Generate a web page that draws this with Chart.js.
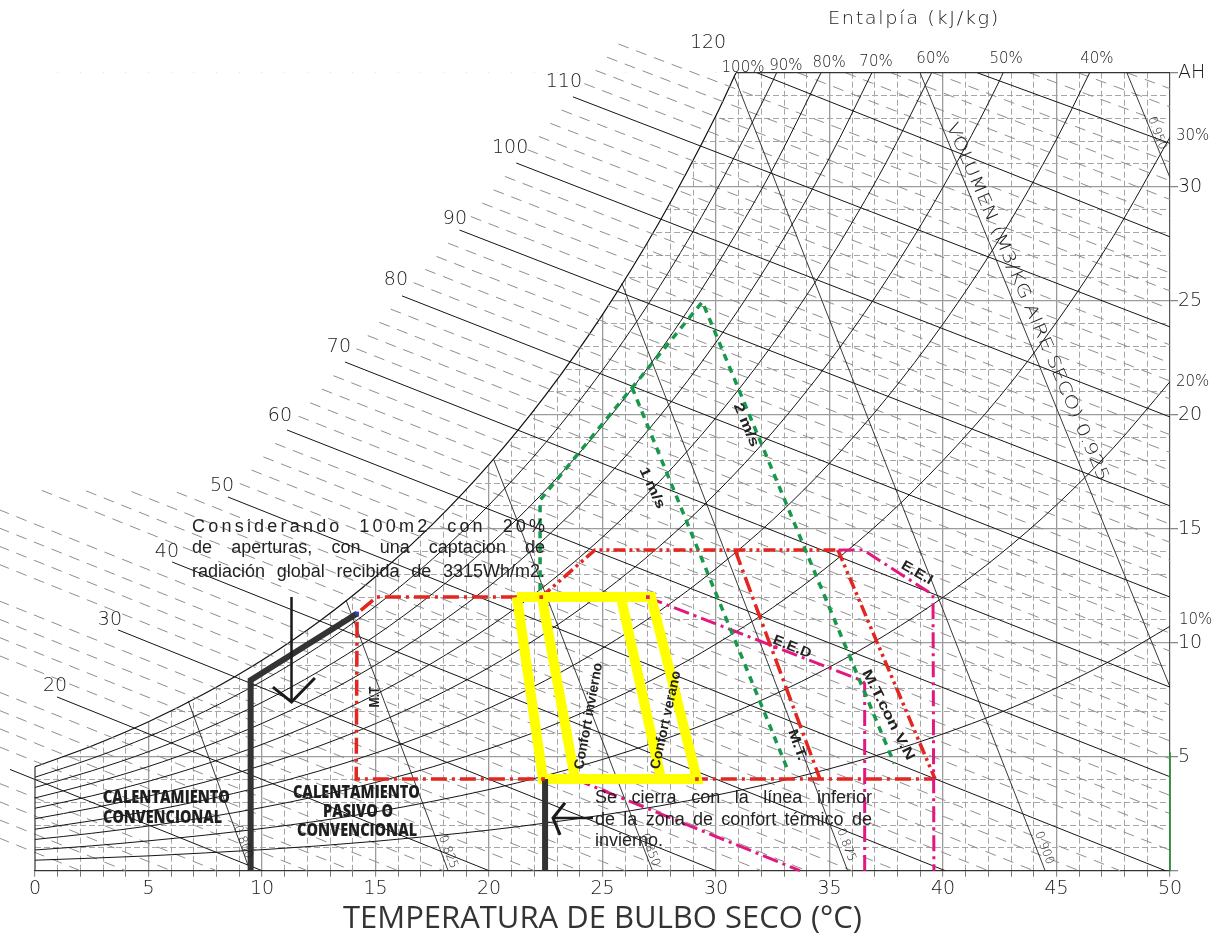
<!DOCTYPE html>
<html lang="es">
<head>
<meta charset="utf-8">
<title>Diagrama psicrométrico</title>
<script src="https://cdn.jsdelivr.net/npm/chart.js@4.4.1/dist/chart.umd.min.js"></script>
<style>
html,body{margin:0;padding:0;background:#fff;}
canvas{display:block;}
</style>
</head>
<body>
<canvas id="psy" width="1219" height="939"></canvas>
<script>
// ---- Dry-bulb temperature sample points (°C) used by the humidity curves ----
const tempSteps = [0,2.5,5,7.5,10,12.5,15,17.5,20,22.5,25,27.5,30,32.5,35,37.5,40,42.5,45,47.5,50];

// ---- Absolute humidity (g/kg) along each relative-humidity curve ----
const rh100 = [4.56,5.47,6.53,7.78,9.23,10.92,12.89,15.18,17.82,20.87,24.39,28.44,33.12];
const rh90  = [4.10,4.92,5.88,7.00,8.31,9.83,11.60,13.66,16.04,18.78,21.95,25.60,29.81,34.63];
const rh80  = [3.65,4.38,5.22,6.22,7.38,8.74,10.31,12.14,14.26,16.70,19.51,22.75,26.50,30.78];
const rh70  = [3.19,3.83,4.57,5.45,6.46,7.64,9.02,10.63,12.47,14.61,17.07,19.91,23.18,26.94,31.27];
const rh60  = [2.74,3.28,3.92,4.67,5.54,6.55,7.73,9.11,10.69,12.52,14.63,17.06,19.87,23.09,26.80,31.07];
const rh50  = [2.28,2.74,3.27,3.89,4.62,5.46,6.45,7.59,8.91,10.44,12.20,14.22,16.56,19.24,22.34,25.89,29.98,34.67];
const rh40  = [1.82,2.19,2.61,3.11,3.69,4.37,5.16,6.07,7.13,8.35,9.76,11.38,13.25,15.39,17.87,20.71,23.98,27.73,32.08];
const rh30  = [1.37,1.64,1.96,2.33,2.77,3.28,3.87,4.55,5.35,6.26,7.32,8.53,9.94,11.54,13.40,15.53,17.99,20.80,24.06,27.82,32.17];
const rh20  = [0.91,1.09,1.31,1.56,1.85,2.18,2.58,3.04,3.56,4.17,4.88,5.69,6.62,7.70,8.93,10.36,11.99,13.87,16.04,18.54,21.45];
const rh10  = [0.46,0.55,0.65,0.78,0.92,1.09,1.29,1.52,1.78,2.09,2.44,2.84,3.31,3.85,4.47,5.18,6.00,6.93,8.02,9.27,10.72];
const rhCurves = [rh100,rh90,rh80,rh70,rh60,rh50,rh40,rh30,rh20,rh10];
const rhLevels = ['100%','90%','80%','70%','60%','50%','40%','30%','20%','10%'];
// temperature where each curve reaches the 35 g/kg upper edge
const rhTopT = [30.88,32.67,34.63,36.87,39.5,42.65,46.46,null,null,null];

// ---- Enthalpy lines (kJ/kg): start and end of each line as (°C, g/kg) ----
const enthH      = [10,20,30,40,50,60,70,80,90,100,110,120,130];
const enthStartT = [-1.1,0.97,3.66,6.04,8.5,11.1,13.66,16.17,18.7,21.2,23.7,31.8,41.5];
const enthStartW = [4.44,7.62,10.56,13.54,16.39,19.33,22.31,25.21,28.1,31.04,33.94,35,35];
const enthEndT   = [10,20,30,40.1,49.8,50,50,50,50,50,50,50,50];
const enthEndW   = [0,0,0,0,0,4.12,8.05,12.0,16.0,19.9,23.85,27.8,31.9];
const enthLabelT = [null,0.88,3.30,5.81,8.24,10.79,13.39,15.90,18.5,20.93,23.3,29.65,null];
const enthLabelW = [null,8.10,10.99,13.97,16.87,19.94,22.97,25.91,28.59,31.70,34.59,36.3,null];

// ---- Intermediate enthalpy lines every 2 kJ/kg (dashed) ----
const dashH = [2,4,6,8,12,14,16,18,22,24,26,28,32,34,36,38,42,44,46,48,52,54,56,58,62,64,66,68,72,74,76,78,82,84,86,88,92,94,96,98,102,104,106,108,112,114,116,118,122,124,126,128,132,134,136];
const dashStartT = [-1.6,-1.6,-1.6,-1.6,-1.6,-1.6,-1.6,-1.6,-1.6,-1.6,-1.6,-1.6,-1.6,-1.6,-1.6,-1.6,0.3,2.25,4.25,6.25,
  9.02,9.54,10.06,10.58,11.61,12.12,12.64,13.15,14.16,14.66,15.17,15.67,16.68,17.19,17.69,18.2,19.2,19.7,20.2,20.7,
  21.7,22.2,22.7,23.2,24.2,24.7,25.2,25.7,33.6,35.7,37.7,39.55,43.8,45.95,48.1];
const dashStartW = [1.44,2.24,3.04,3.84,5.44,6.24,7.04,7.84,9.44,10.24,11.04,11.84,13.44,14.24,15.04,15.84,16.68,16.66,16.63,16.6,
  16.98,17.57,18.15,18.74,19.93,20.52,21.12,21.71,22.89,23.47,24.05,24.63,25.79,26.37,26.94,27.52,28.69,29.28,29.86,30.45,
  31.62,32.2,32.78,33.36,34.52,35.1,35.68,36.26,35,35,35,35,35,35,35];
const dashEndT = [2,4,6,8,12,14,16,18,22,24,26,28,32,34,36,38,42,44,46,47.8,
  50,50,50,50,50,50,50,50,50,50,50,50,50,50,50,50,50,50,50,50,50,50,50,50,50,50,50,50,50,50,50,50,50,50,50];
const dashEndW = [0,0,0,0,0,0,0,0,0,0,0,0,0,0,0,0,0,0,0,0,
  0.9,1.7,2.5,3.3,4.91,5.69,6.48,7.26,8.84,9.63,10.42,11.21,12.8,13.6,14.4,15.2,16.78,17.56,18.34,19.12,
  20.69,21.48,22.27,23.06,24.64,25.43,26.22,27.01,28.62,29.44,30.26,31.08,32.7,33.5,34.3];

// ---- Specific volume lines (m3/kg dry air) ----
const volLabels = ['0.800','0.825','0.850','0.875','0.900','0.925','0.950'];
const volStartT = [6.75,13.7,20.2,25.85,30.8,38.99,48.1];
const volStartW = [7.45,11.87,18.05,25.77,34.84,35,35];
const volEndT   = [9.47,18.2,27.2,35.8,44.5,50,50];
const volEndW   = [0,0,0,0,0,8.06,30.4];

// ---- Axis ticks ----
const xTickLabels = [0,5,10,15,20,25,30,35,40,45,50];
const yTickLabels = [5,10,15,20,25,30];
const xGrid = Array.from({length: 51}, (_, i) => i);
const yGrid = Array.from({length: 36}, (_, i) => i);

// ---- Bioclimatic strategy zones (°C, g/kg) ----
const redBaseT   = [21.23,15.05,14.19,14.15,39.65];
const redBaseW   = [12.0,12.0,11.28,4.02,4.02];
const redTopT    = [22.3,24.67,35.4];
const redTopW    = [12.0,14.07,14.07];
const redMtT     = [30.84,34.58];
const redMtW     = [14.07,4.02];
const redMtvnT   = [35.37,39.65];
const redMtvnW   = [14.07,4.02];
const eeiT = [35.4,36.48,39.56,39.6];
const eeiW = [14.07,14.07,12.1,0];
const eedT = [26.96,36.45,36.55,36.55];
const eedW = [12.0,8.33,8.2,0];
const lowMagT = [23.79,33.7];
const lowMagW = [4.02,0];
const wind2T = [22.25,22.25,29.4,37.85];
const wind2W = [12.3,16.25,24.95,4.7];
const wind1T = [26.3,33.17];
const wind1W = [21.2,4.4];
const comfortOuterT = [21.23,27.14,29.16,22.38,21.23];
const comfortOuterW = [12.0,12.0,4.02,4.02,12.0];
const winterInnerT = [22.33,23.79];
const winterInnerW = [12.0,4.02];
const summerInnerT = [25.81,27.58];
const summerInnerW = [12.0,4.02];
const heatingT = [9.5,9.5,14.19];
const heatingW = [0,8.36,11.28];
const closeT = [22.47,22.47];
const closeW = [4.02,0];
const arrowDownT = [11.3,11.3];
const arrowDownW = [12.0,7.4];
const arrowDownHeadT = [10.48,11.3,12.33];
const arrowDownHeadW = [8.05,7.4,8.45];
const arrowLeftT = [24.58,22.82];
const arrowLeftW = [2.31,2.31];
const arrowLeftHeadT = [23.35,22.82,23.13];
const arrowLeftHeadW = [2.98,2.31,1.57];
const redDotT = [22.38,29.16,22.3];
const redDotW = [4.02,4.02,12.0];
const magDotT = [27.0,32.6];
const magDotW = [12.0,9.8];
const blueDotT = [14.19];
const blueDotW = [11.28];

// ---------------------------------------------------------------------------
const CAD = '"DejaVu Sans", sans-serif';
const SANS = '"Liberation Sans", Arial, sans-serif';
const pts = (ts, ws) => ts.map((t, i) => ({x: t, y: ws[i]}));
function segments(t0, w0, t1, w1) {
  const out = [];
  t0.forEach((t, i) => {
    out.push({x: t, y: w0[i]}, {x: t1[i], y: w1[i]}, {x: t1[i], y: null});
  });
  return out;
}
function curve(ws, topT) {
  const p = ws.map((w, i) => ({x: tempSteps[i], y: w}));
  if (topT != null) p.push({x: topT, y: 35});
  return p;
}

const RED = '#e3261f', MAG = '#e2177f', GREEN = '#17984a', YEL = '#ffff00', DARK = '#333333';
const dashDot = [16,5,3,5];
const dashDotDot = [12,4,3,4,3,4];

const datasets = [];
// saturation curve, white above it hides the grid
datasets.push({data: curve(rh100, rhTopT[0]), borderColor: '#111', borderWidth: 1.2, fill: 'end',
  backgroundColor: '#ffffff', cubicInterpolationMode: 'monotone', order: 100});
datasets.push({data: segments(dashStartT, dashStartW, dashEndT, dashEndW), borderColor: '#8e8e8e', borderWidth: 1,
  borderDash: [11,8], clip: false, order: 95});
datasets.push({data: segments(enthStartT, enthStartW, enthEndT, enthEndW), borderColor: '#151515', borderWidth: 1,
  clip: false, order: 90});
for (let i = 1; i < rhCurves.length; i++) {
  datasets.push({data: curve(rhCurves[i], rhTopT[i]), borderColor: '#151515', borderWidth: 1,
    cubicInterpolationMode: 'monotone', order: 85});
}
datasets.push({data: segments(volStartT, volStartW, volEndT, volEndW), borderColor: '#222', borderWidth: 0.9, order: 85});
datasets.push({data: [{x: rhTopT[0], y: 35}, {x: 50, y: 35}], borderColor: '#333', borderWidth: 1.2, clip: false, order: 84});
datasets.push({data: [{x: 0, y: 0}, {x: 0, y: rh100[0]}], borderColor: '#333', borderWidth: 1.2, clip: false, order: 84});
datasets.push({data: [{x: 50, y: 0}, {x: 50, y: 5.2}], borderColor: '#2f8f3f', borderWidth: 1.8, clip: false, order: 84});

// strategy outlines
const line = (ts, ws, color, width, dash, order) => ({data: pts(ts, ws), borderColor: color, borderWidth: width,
  borderDash: dash || [], clip: false, order, borderJoinStyle: 'miter'});
datasets.push(line(redBaseT, redBaseW, RED, 3.5, dashDot, 40));
datasets.push(line(redTopT, redTopW, RED, 3.5, dashDotDot, 40));
datasets.push(line(redMtT, redMtW, RED, 3.5, dashDot, 40));
datasets.push(line(redMtvnT, redMtvnW, RED, 3.5, dashDotDot, 40));
datasets.push(line(eeiT, eeiW, MAG, 3, dashDot, 38));
datasets.push(line(eedT, eedW, MAG, 3, dashDot, 38));
datasets.push(line(lowMagT, lowMagW, MAG, 3, dashDot, 38));
datasets.push(line(wind2T, wind2W, GREEN, 3.5, [7,6], 36));
datasets.push(line(wind1T, wind1W, GREEN, 3.5, [7,6], 36));
datasets.push(line(comfortOuterT, comfortOuterW, YEL, 10, [], 30));
datasets.push(line(winterInnerT, winterInnerW, YEL, 10, [], 30));
datasets.push(line(summerInnerT, summerInnerW, YEL, 10, [], 30));
datasets.push(line(heatingT, heatingW, DARK, 6, [], 20));
datasets.push(line(closeT, closeW, DARK, 6, [], 20));
datasets.push(line(arrowDownT, arrowDownW, '#1a1a1a', 2.5, [], 10));
datasets.push(line(arrowDownHeadT, arrowDownHeadW, '#1a1a1a', 3, [], 10));
datasets.push(line(arrowLeftT, arrowLeftW, '#1a1a1a', 2.5, [], 10));
datasets.push(line(arrowLeftHeadT, arrowLeftHeadW, '#1a1a1a', 3, [], 10));
const dots = (ts, ws, color) => ({data: pts(ts, ws), showLine: false, pointRadius: 2.6, pointStyle: 'rect',
  pointBackgroundColor: color, pointBorderWidth: 0, clip: false, order: 5});
datasets.push(dots(redDotT, redDotW, RED));
datasets.push(dots(magDotT, magDotW, MAG));
datasets.push(dots(blueDotT, blueDotW, '#2a3bd8'));

// ---------------------------------------------------------------------------
function txt(ctx, s, x, y, o) {
  ctx.save();
  ctx.translate(x, y);
  if (o.rot) ctx.rotate(o.rot * Math.PI / 180);
  ctx.font = o.font;
  ctx.fillStyle = o.color || '#222';
  ctx.textAlign = o.align || 'center';
  ctx.textBaseline = 'middle';
  if ('letterSpacing' in ctx) ctx.letterSpacing = (o.ls || 0) + 'px';
  if (o.width) {
    const w = ctx.measureText(s).width;
    ctx.scale(o.width / w, 1);
  }
  ctx.fillText(s, 0, 0);
  ctx.restore();
}
function justify(ctx, s, x0, x1, y, font, ls) {
  ctx.save();
  ctx.font = font;
  ctx.fillStyle = '#222';
  ctx.textAlign = 'left';
  ctx.textBaseline = 'middle';
  if ('letterSpacing' in ctx) ctx.letterSpacing = ls + 'px';
  const words = s.split(' ');
  const widths = words.map(w => ctx.measureText(w).width - ls);
  const total = widths.reduce((a, b) => a + b, 0);
  const gap = words.length > 1 ? (x1 - x0 - total) / (words.length - 1) : 0;
  let x = x0;
  words.forEach((w, i) => { ctx.fillText(w, x, y); x += widths[i] + gap; });
  ctx.restore();
}

// text labels placed in chart units (°C, g/kg)
const rhTopLabelT = [31.19,33.08,34.98,37.05,39.56,42.78,46.78];
const rhTopLabelW = [35.2,35.29,35.42,35.46,35.6,35.6,35.6];
const rhSideLabelW = [32.2,21.45,11.0];
const volLabelT = [9.16,18.19,27.09,35.73,44.45,null,49.43];
const volLabelW = [1.26,0.82,0.91,1.13,1.0,null,32.35];

const textPlugin = {
  id: 'psyText',
  afterDraw(chart) {
    const {ctx, scales: {x, y}} = chart;
    const X = t => x.getPixelForValue(t), Y = w => y.getPixelForValue(w);
    const cad = (s, w) => (w || 200) + ' ' + s + 'px ' + CAD;

    enthH.forEach((h, i) => {
      if (enthLabelT[i] == null) return;
      txt(ctx, String(h), X(enthLabelT[i]), Y(enthLabelW[i]), {font: cad(19), color: '#1a1a1a'});
    });
    rhTopLabelT.forEach((t, i) => txt(ctx, rhLevels[i], X(t), Y(rhTopLabelW[i]), {font: cad(15), color: '#1a1a1a'}));
    rhSideLabelW.forEach((w, i) => txt(ctx, rhLevels[7 + i], 1176 + (i === 2 ? 3 : 0), Y(w), {font: cad(15), align: 'left', color: '#1a1a1a'}));
    txt(ctx, 'Entalpía (kJ/kg)', X(38.72), Y(37.36), {font: cad(18), ls: 1.5, width: 172, color: '#1a1a1a'});

    volLabels.forEach((v, i) => {
      if (volLabelT[i] == null) return;
      txt(ctx, v, X(volLabelT[i]), Y(volLabelW[i]), {font: cad(12), rot: 69, color: '#1a1a1a'});
    });
    txt(ctx, 'VOLUMEN (M3/KG AIRE SECO) 0.925', X(43.7), Y(24.94), {font: cad(17), rot: 66.8, width: 388, color: '#1a1a1a'});

    // notes
    const note = '18px ' + SANS;
    justify(ctx, 'Considerando 100m2 con 20%', X(6.92), X(22.47), Y(15.07), note, 3.2);
    justify(ctx, 'de aperturas, con una captacion de', X(6.92), X(22.47), Y(14.15), note, 0);
    justify(ctx, 'radiación global recibida de 3315Wh/m2.', X(6.92), X(22.47), Y(13.1), note, 0);
    justify(ctx, 'Se cierra con la línea inferior', X(24.67), X(36.87), Y(3.19), note, 0);
    justify(ctx, 'de la zona de confort térmico de', X(24.67), X(36.87), Y(2.22), note, 0);
    txt(ctx, 'invierno.', X(24.67), Y(1.3), {font: note, align: 'left'});

    const blk = '800 17px "Open Sans", sans-serif';
    txt(ctx, 'CALENTAMIENTO', X(5.79), Y(3.17), {font: blk, width: 127, color: '#1e1e1e'});
    txt(ctx, 'CONVENCIONAL', X(5.62), Y(2.29), {font: blk, width: 119, color: '#1e1e1e'});
    txt(ctx, 'CALENTAMIENTO', X(14.16), Y(3.39), {font: blk, width: 127, color: '#1e1e1e'});
    txt(ctx, 'PASIVO O', X(14.23), Y(2.55), {font: blk, width: 70, color: '#1e1e1e'});
    txt(ctx, 'CONVENCIONAL', X(14.19), Y(1.74), {font: blk, width: 120, color: '#1e1e1e'});

    const bl = 'bold 14px ' + SANS;
    txt(ctx, 'M.T', X(14.98), Y(7.62), {font: bl, rot: -90, width: 21});
    txt(ctx, 'Confort invierno', X(24.4), Y(6.78), {font: 'bold 14px ' + SANS, rot: -79.7, width: 108});
    txt(ctx, 'Confort verano', X(27.8), Y(6.61), {font: 'bold 14px ' + SANS, rot: -77.6, width: 100});
    txt(ctx, 'E.E.D', X(33.35), Y(9.81), {font: bl, rot: 22, width: 40});
    txt(ctx, 'E.E.I', X(38.85), Y(13.06), {font: bl, rot: 30, width: 34});
    txt(ctx, 'M.T.', X(33.57), Y(5.51), {font: bl, rot: 70, width: 32});
    txt(ctx, 'M.T.con V.N', X(37.58), Y(6.83), {font: bl, rot: 63, width: 100});
    txt(ctx, '1 m/s', X(27.18), Y(16.78), {font: bl, rot: 65, width: 44});
    txt(ctx, '2 m/s', X(31.32), Y(19.55), {font: bl, rot: 67, width: 46});
  }
};

Chart.defaults.font.family = CAD;
new Chart(document.getElementById('psy'), {
  type: 'line',
  data: {datasets},
  options: {
    responsive: false,
    animation: false,
    devicePixelRatio: 1,
    layout: {padding: {left: 35, top: 72.7, right: 0, bottom: 0}},
    elements: {point: {radius: 0}, line: {tension: 0}},
    plugins: {legend: {display: false}, tooltip: {enabled: false}},
    scales: {
      x: {
        type: 'linear', min: 0, max: 50, position: 'bottom',
        afterFit(s) { s.height = 68.3; },
        afterBuildTicks(s) { s.ticks = xGrid.map(v => ({value: v})); },
        ticks: {autoSkip: false, maxRotation: 0, padding: 1, color: '#1a1a1a',
          font: {family: CAD, size: 19, weight: '200'},
          callback: v => xTickLabels.includes(v) ? String(v) : ''},
        grid: {
          color: c => (c.tick && (c.tick.value === 0 || c.tick.value === 50)) ? 'rgba(0,0,0,0)' :
            (c.tick && c.tick.value % 5 === 0 ? '#9c9c9c' : '#a6a6a6'),
          lineWidth: c => (c.tick && c.tick.value % 5 === 0) ? 1.3 : 1,
          tickLength: 6, tickColor: '#777', tickWidth: 1
        },
        border: {display: true, color: '#333', width: 1.2,
          dash: c => (c.tick && c.tick.value % 5 !== 0) ? [6,3] : []},
        title: {display: true, text: 'TEMPERATURA DE BULBO SECO (°C)', color: '#333',
          font: {family: '"Open Sans", sans-serif', size: 31}, padding: {top: 0, bottom: 1}}
      },
      y: {
        type: 'linear', min: 0, max: 35, position: 'right',
        afterFit(s) { s.width = 49; },
        afterBuildTicks(s) { s.ticks = yGrid.map(v => ({value: v})); },
        ticks: {autoSkip: false, padding: 0, color: '#1a1a1a',
          font: {family: CAD, size: 19, weight: '200'},
          callback: v => v === 35 ? 'AH' : (yTickLabels.includes(v) ? String(v) : '')},
        grid: {
          color: c => (c.tick && (c.tick.value === 0 || c.tick.value === 35)) ? 'rgba(0,0,0,0)' :
            (c.tick && c.tick.value % 5 === 0 ? '#9c9c9c' : '#a6a6a6'),
          lineWidth: c => (c.tick && c.tick.value % 5 === 0) ? 1.3 : 1,
          tickLength: 8,
          tickColor: c => (c.tick && c.tick.value % 5 === 0) ? '#888' : 'rgba(0,0,0,0)'
        },
        border: {display: true, color: '#555', width: 1.2,
          dash: c => (c.tick && c.tick.value % 5 !== 0) ? [6,3] : []}
      }
    }
  },
  plugins: [textPlugin]
});
</script>
</body>
</html>
